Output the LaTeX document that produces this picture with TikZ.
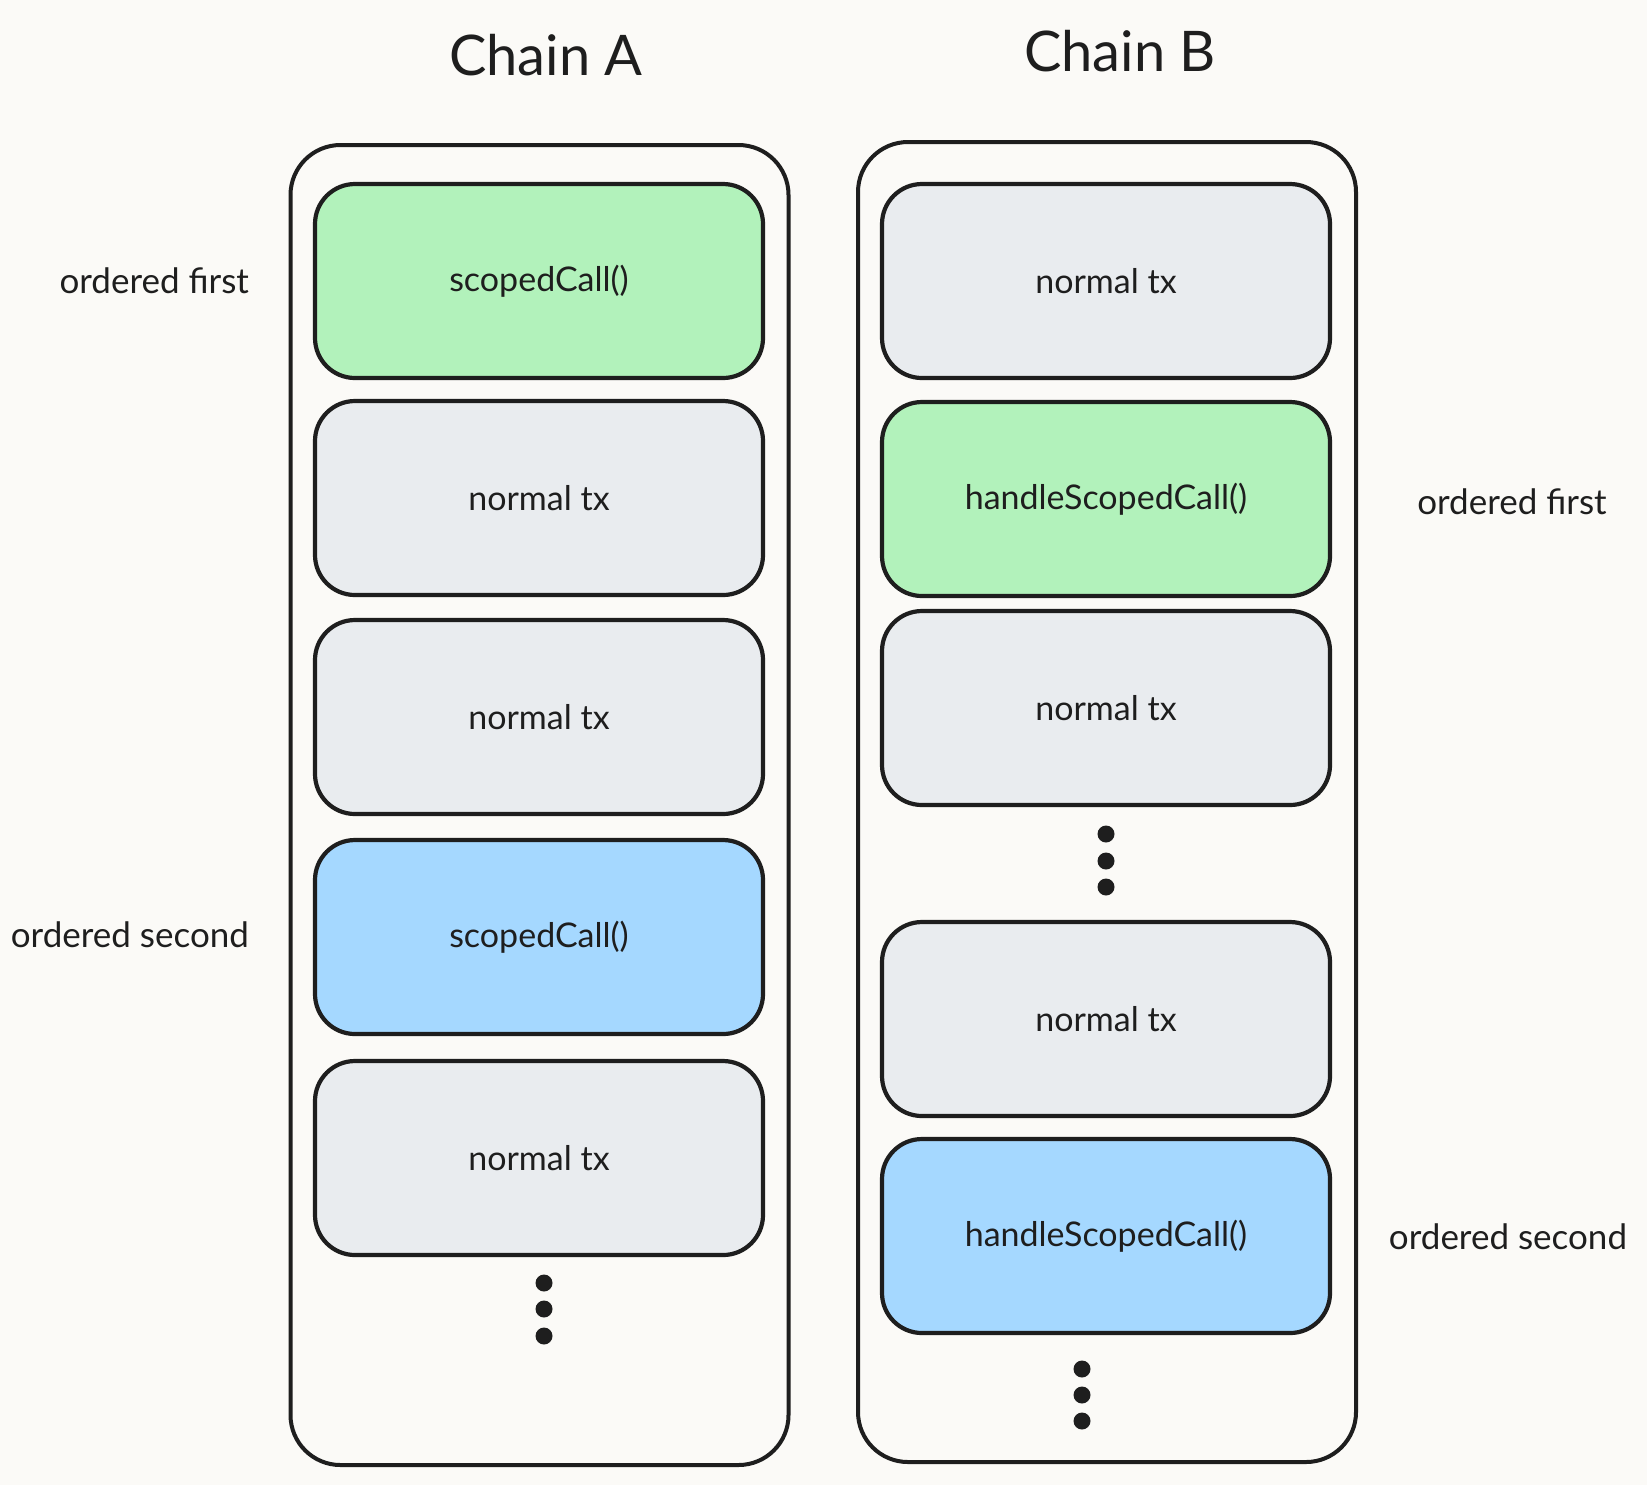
\documentclass[tikz,border=0pt]{standalone}
\usepackage{fontspec}
\setmainfont{Lato}
\usepackage{tikz}
\usetikzlibrary{positioning}
\definecolor{paper}{HTML}{FBFAF7}
\definecolor{ink}{HTML}{1E1E1E}
\definecolor{txgray}{HTML}{E9ECEF}
\definecolor{firstgreen}{HTML}{B2F2BB}
\definecolor{secondblue}{HTML}{A5D8FF}
\tikzset{
	chainbox/.style={draw=ink, line width=2pt, rounded corners=25pt, minimum width=249pt, minimum height=660pt, fill=paper},
	txbox/.style={draw=ink, line width=2.1pt, rounded corners=20pt, minimum width=224pt, minimum height=97pt, fill=txgray, text=ink, font=\fontsize{17}{20}\selectfont},
	ordertag/.style={text=ink, font=\fontsize{17.5}{21}\selectfont},
	chaintitle/.style={text=ink, font=\fontsize{28}{32}\selectfont},
	more/.style={fill=ink, circle, inner sep=0pt, minimum size=8.5pt}
}
\begin{document}
\begin{tikzpicture}[x=0.5pt, y=-0.5pt]
	\fill[paper] (0,0) rectangle (1647,1485);
	% chain A
	\node[chaintitle] (titleA) at (546,55) {Chain A};
	\node[chainbox] (chainA) at (539.5,805) {};
	\node[txbox, fill=firstgreen] (a1) at (539,281) {scopedCall()};
	\node[txbox] (a2) at (539,498) {normal tx};
	\node[txbox] (a3) at (539,717) {normal tx};
	\node[txbox, fill=secondblue] (a4) at (539,937) {scopedCall()};
	\node[txbox] (a5) at (539,1158) {normal tx};
	\foreach \y/\n in {1283/1,1309/2,1336/3}
		\node[more] (amore\n) at (544,\y) {};
	\node[ordertag, anchor=east] (afirst) at (256,281) {ordered first};
	\node[ordertag, anchor=east] (asecond) at (256,935) {ordered second};
	% chain B
	\node[chaintitle] (titleB) at (1120,51) {Chain B};
	\node[chainbox] (chainB) at (1107,802) {};
	\node[txbox] (b1) at (1106,281) {normal tx};
	\node[txbox, fill=firstgreen] (b2) at (1106,499) {handleScopedCall()};
	\node[txbox] (b3) at (1106,708) {normal tx};
	\node[txbox] (b4) at (1106,1019) {normal tx};
	\node[txbox, fill=secondblue] (b5) at (1106,1236) {handleScopedCall()};
	\foreach \y/\n in {834/1,861/2,887/3}
		\node[more] (bmid\n) at (1106,\y) {};
	\foreach \y/\n in {1369/1,1395/2,1421/3}
		\node[more] (bmore\n) at (1082,\y) {};
	\node[ordertag] (bfirst) at (1512,502) {ordered first};
	\node[ordertag] (bsecond) at (1508,1237) {ordered second};
\end{tikzpicture}
\end{document}
